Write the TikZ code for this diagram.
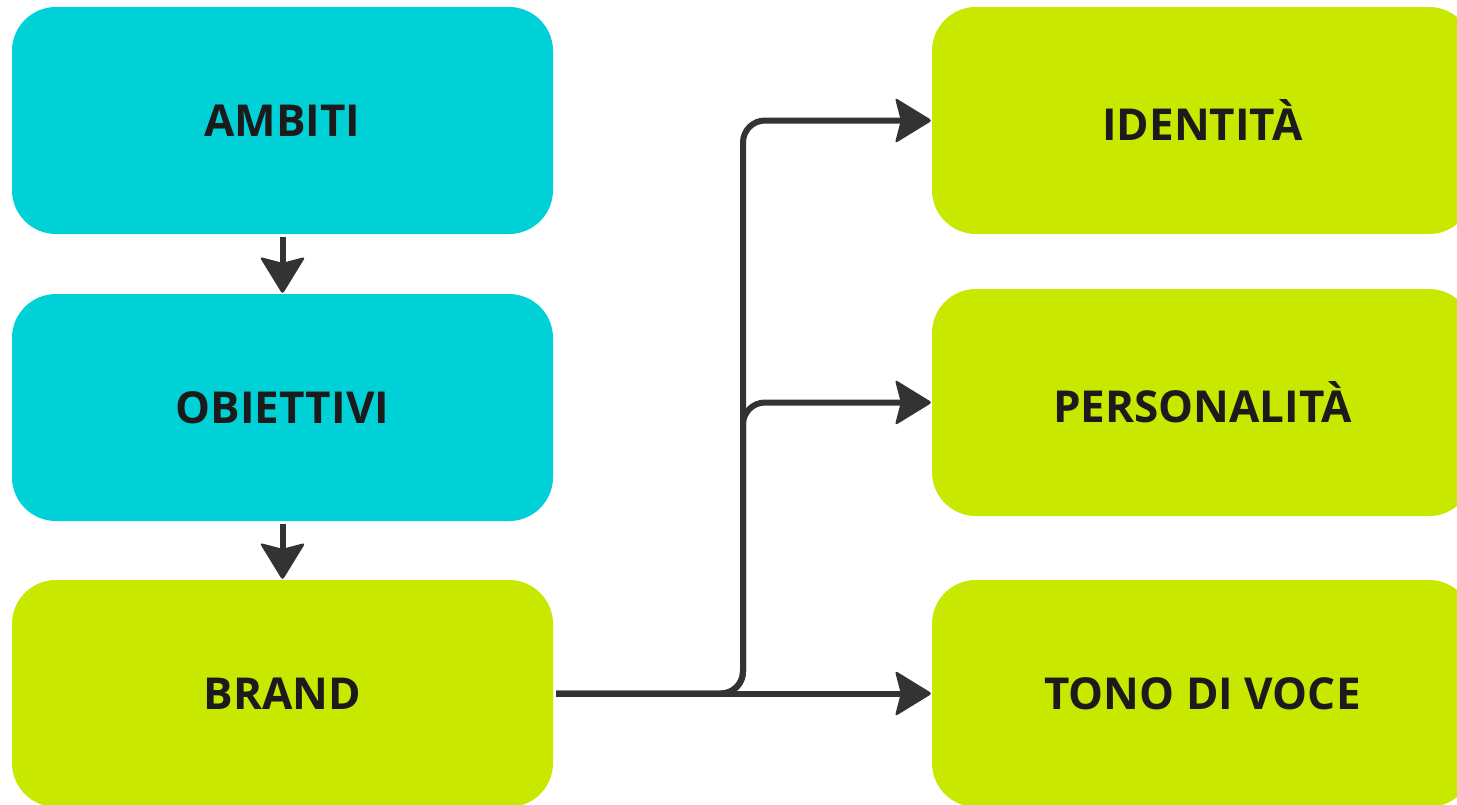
\documentclass[tikz,border=0pt]{standalone}
\usepackage{fontspec}
\setmainfont{Open Sans}
\definecolor{cyanbox}{RGB}{0,209,214}
\definecolor{limebox}{RGB}{200,232,0}
\definecolor{txt}{RGB}{27,27,27}
\definecolor{lin}{RGB}{51,51,51}
\tikzset{
  box/.style={rectangle, rounded corners=44pt, minimum width=541pt, minimum height=227pt,
    inner sep=0pt, text=txt, font=\fontsize{44}{52}\selectfont\bfseries},
  cbox/.style={box, fill=cyanbox},
  lbox/.style={box, fill=limebox},
  conn/.style={draw=lin, line width=6pt, shorten >=22pt},
  arrowhead/.pic={\fill[lin, rounded corners=3pt] (0.5,0) -- (-37,23) -- (-31,0) -- (-37,-23) -- cycle;}
}
\begin{document}
\begin{tikzpicture}[x=1pt, y=-1pt]
\useasboundingbox (0,0) rectangle (1457,804);
\clip (0,0) rectangle (1457,804);
\fill[white] (0,0) rectangle (1457,804);
\node[cbox] (ambiti) at (282.5,120.5) {AMBITI};
\node[cbox] (obiettivi) at (282.5,407.5) {OBIETTIVI};
\node[lbox] (brand) at (282.5,693.5) {BRAND};
\node[lbox] (ident) at (1202.5,120.5) {IDENTITÀ};
\node[lbox] (pers) at (1202.5,402.5) {PERSONALITÀ};
\node[lbox] (tono) at (1202.5,693.5) {TONO DI VOCE};
\coordinate (split) at (743,693.5);
\draw[conn] ([yshift=-3pt]ambiti.south) -- (obiettivi.north);
\draw[conn] ([yshift=-3pt]obiettivi.south) -- (brand.north);
\draw[conn, rounded corners=22pt] ([xshift=3pt]brand.east) -- (split) |- (ident.west);
\draw[conn, rounded corners=22pt] ([xshift=3pt]brand.east) -- (split) |- (pers.west);
\draw[conn] ([xshift=3pt]brand.east) -- (tono.west);
\pic[rotate=-90] at (obiettivi.north) {arrowhead};
\pic[rotate=-90] at (brand.north) {arrowhead};
\pic at (ident.west) {arrowhead};
\pic at (pers.west) {arrowhead};
\pic at (tono.west) {arrowhead};
\end{tikzpicture}
\end{document}
